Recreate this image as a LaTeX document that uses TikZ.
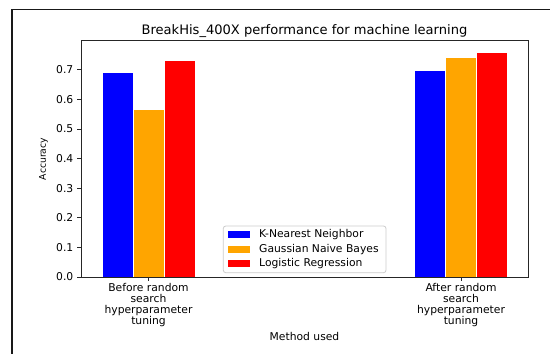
\documentclass[tikz,border=0pt]{standalone}
\usepackage{fontspec}
\setmainfont{DejaVu Sans}
\definecolor{knn}{RGB}{0,0,255}
\definecolor{gnb}{RGB}{255,165,0}
\definecolor{lr}{RGB}{255,0,0}
\begin{document}
\begin{tikzpicture}[x=1bp,y=-1bp,
  bar/.style={draw=white,line width=0.8bp},
  tickfont/.style={font=\fontsize{10.8}{11.2}\selectfont,inner sep=0pt},
  axisline/.style={line width=0.9bp,draw=black!85}]
\useasboundingbox (0,0) rectangle (550,354);
\fill[white] (0,0) rectangle (550,354);
% outer frame (top and left edges)
\draw[line width=1.4bp,black!90] (550,9.5) -- (12,9.5) -- (12,354);
% bars: centre, half width 15.5, scale 296.1 px per unit
\def\sc{296.1}
\foreach \cx/\v/\c in {117.5/0.690/knn,148.5/0.567/gnb,179.5/0.730/lr,
                       430/0.698/knn,461/0.742/gnb,492/0.759/lr}{
  \path[bar,fill=\c] (\cx-15.5,277) rectangle (\cx+15.5,277-\v*\sc);
}
% axes box
\draw[axisline] (81,40) rectangle (528,277);
% y ticks and labels
\foreach \v in {0,1,...,7}{
  \draw[axisline] (77,277-\v*29.61) -- (81,277-\v*29.61);
  \node[tickfont,anchor=east] (yt\v) at (73.5,277-\v*29.61) {0.\v};
}
% x ticks and labels
\coordinate (g1) at (148.5,277);
\coordinate (g2) at (461,277);
\draw[axisline] (g1) -- ++(0,4);
\draw[axisline] (g2) -- ++(0,4);
\node[tickfont,align=center,anchor=north] (xl1) at (148.5,283)
  {Before random\\search\\hyperparameter\\tuning};
\node[tickfont,align=center,anchor=north] (xl2) at (461,283)
  {After random\\search\\hyperparameter\\tuning};
% titles
\node[font=\fontsize{13.1}{14}\selectfont,inner sep=0pt] (title) at (304.5,30.7)
  {BreakHis\_400X performance for machine learning};
\node[tickfont] (xlab) at (304.5,336) {Method used};
\node[font=\fontsize{9.3}{10}\selectfont,inner sep=0pt,rotate=90] (ylab) at (43.5,159) {Accuracy};
% legend
\draw[black!20,fill=white,line width=0.8bp,rounded corners=2.5bp] (223.3,226) rectangle (386,272.7);
\foreach \i/\c/\t in {0/knn/K-Nearest Neighbor,1/gnb/Gaussian Naive Bayes,2/lr/Logistic Regression}{
  \fill[\c] (228.3,234.8+\i*14.3-3.6) rectangle (250,234.8+\i*14.3+3.6);
  \node[tickfont,anchor=west] (leg\i) at (259,234.8+\i*14.3) {\t};
}
\end{tikzpicture}
\end{document}
